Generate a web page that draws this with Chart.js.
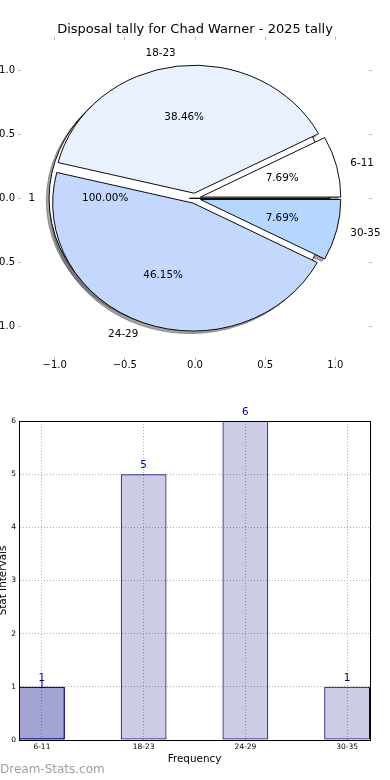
<!DOCTYPE html>
<html>
<head>
<meta charset="utf-8">
<title>Disposal tally for Chad Warner - 2025 tally</title>
<script src="https://cdn.jsdelivr.net/npm/chart.js@4.4.1/dist/chart.umd.min.js"></script>
<style>
  html, body { margin: 0; padding: 0; background: #fff; }
  #page { position: relative; width: 390px; height: 780px; overflow: hidden; }
  #page canvas { position: absolute; left: 0; }
  #watermark { position: absolute; left: 0; top: 762px; font: 12px 'DejaVu Sans', sans-serif; color: #9e9e9e; line-height: 15px; }
</style>
</head>
<body>
<div id="page">
  <canvas id="pieAxes" width="390" height="385" style="top:0"></canvas>
  <canvas id="pieBase" width="390" height="385" style="top:0"></canvas>
  <canvas id="pieMain" width="390" height="385" style="top:0"></canvas>
  <canvas id="barChart" width="390" height="395" style="top:385px"></canvas>
  <div id="watermark">Dream-Stats.com</div>
</div>
<script>
// data
const categories = ['6-11', '18-23', '24-29', '30-35'];
const tallies = [1, 5, 6, 1];
const extraTallies = [1];        // second bar drawn over 6-11
const extraLabels = ['1'];       // second, single wedge pie
const extraValues = [1];
const pieTicks = [-1.0, -0.5, 0.0, 0.5, 1.0];
const barTicks = [0, 1, 2, 3, 4, 5, 6];

const FONT = "'DejaVu Sans', sans-serif";
const pieColors = ['#ffffff', '#eaf1fe', '#c4d8fd', '#b4d6ff'];
const EXPLODE = 0.04;
const PIE_LIM = 1.24;
const BAR_W = 0.45;
const tickGrey = '#bdbdbd';
const gridGrey = '#b0b0b0';

Chart.defaults.font.family = FONT;
Chart.defaults.color = '#000';

function fmtTick(v) {
  return (v < 0 ? '\u2212' : '') + Math.abs(v).toFixed(1);
}
function fixedTicks(values) {
  return scale => { scale.ticks = values.map(v => ({ value: v })); };
}

// ---- top: axes frame for the pie ----
const markGrid = { drawOnChartArea: false, drawTicks: true, tickLength: 3, tickColor: tickGrey, tickWidth: 1 };

const axesChart = new Chart(document.getElementById('pieAxes'), {
  type: 'scatter',
  data: { datasets: [] },
  options: {
    responsive: false,
    animation: false,
    layout: { padding: 0 },
    plugins: {
      legend: { display: false },
      tooltip: { enabled: false },
      title: {
        display: true,
        text: 'Disposal tally for Chad Warner - 2025 tally',
        color: '#000',
        font: { size: 13, weight: 'normal', lineHeight: 1.2 },
        padding: { top: 22, bottom: 2 }
      }
    },
    scales: {
      x: {
        type: 'linear', position: 'bottom', min: -PIE_LIM, max: PIE_LIM,
        afterBuildTicks: fixedTicks(pieTicks),
        afterFit: s => { s.height = 28; },
        border: { display: false },
        grid: markGrid,
        ticks: { font: { size: 10, lineHeight: 1 }, padding: 0, maxRotation: 0, callback: v => fmtTick(v) }
      },
      x2: {
        type: 'linear', axis: 'x', position: 'top', min: -PIE_LIM, max: PIE_LIM,
        afterBuildTicks: fixedTicks(pieTicks),
        afterFit: s => { s.height = 0; },
        border: { display: false },
        grid: markGrid,
        ticks: { display: false }
      },
      y: {
        type: 'linear', position: 'left', min: -PIE_LIM, max: PIE_LIM,
        afterBuildTicks: fixedTicks(pieTicks),
        afterFit: s => { s.width = 21; },
        border: { display: false },
        grid: markGrid,
        ticks: { font: { size: 10 }, padding: 3, callback: v => fmtTick(v) }
      },
      y2: {
        type: 'linear', axis: 'y', position: 'right', min: -PIE_LIM, max: PIE_LIM,
        afterBuildTicks: fixedTicks(pieTicks),
        afterFit: s => { s.width = 21; },
        border: { display: false },
        grid: markGrid,
        ticks: { display: false }
      }
    }
  }
});

// pie geometry from the axes scales
const sx = axesChart.scales.x, sy = axesChart.scales.y;
const ox = sx.getPixelForValue(0), oy = sy.getPixelForValue(0);
const R = sx.getPixelForValue(1) - ox;
const ky = (oy - sy.getPixelForValue(1)) / R;
const CW = 390, CH = 385;
const piePad = {
  left: Math.max(0, 2 * ox - CW), right: Math.max(0, CW - 2 * ox),
  top: Math.max(0, 2 * oy - CH), bottom: Math.max(0, CH - 2 * oy)
};

function squash(ctx) {
  ctx.translate(ox, oy);
  ctx.scale(1, ky);
  ctx.translate(-ox, -oy);
}

let baseChart = null;
let mainChart = null;

const explodePlugin = {
  id: 'explodeWedges',
  afterDatasetsUpdate(chart) {
    const d = EXPLODE * R;
    chart.getDatasetMeta(0).data.forEach(arc => {
      const mid = (arc.startAngle + arc.endAngle) / 2;
      arc.x += Math.cos(mid) * d;
      arc.y += Math.sin(mid) * d;
    });
  }
};

const shadowPlugin = {
  id: 'pieShadows',
  beforeDatasetsDraw(chart) {
    const ctx = chart.ctx;
    const shift = 1000;
    const groups = [chart.getDatasetMeta(0).data];
    if (mainChart) groups.push(mainChart.getDatasetMeta(0).data);
    ctx.save();
    ctx.translate(-shift, 0);
    ctx.shadowColor = 'rgba(75, 75, 78, 0.5)';
    ctx.shadowBlur = 0;
    ctx.shadowOffsetX = shift - 0.02 * R;
    ctx.shadowOffsetY = 0.02 * R * ky;
    squash(ctx);
    groups.forEach(arcs => arcs.forEach(arc => arc.draw(ctx)));
    ctx.restore();
  }
};

const squashPlugin = {
  id: 'squashPie',
  beforeDatasetsDraw(chart) { chart.ctx.save(); squash(chart.ctx); },
  afterDatasetsDraw(chart) { chart.ctx.restore(); }
};

const pieTextPlugin = {
  id: 'pieTexts',
  afterDraw(chart) {
    const ctx = chart.ctx;
    const groups = [
      { arcs: baseChart.getDatasetMeta(0).data, labels: extraLabels, values: extraValues },
      { arcs: chart.getDatasetMeta(0).data, labels: chart.data.labels, values: chart.data.datasets[0].data }
    ];
    ctx.save();
    ctx.font = '10.4px ' + FONT;
    ctx.fillStyle = '#000';
    ctx.textBaseline = 'middle';
    groups.forEach(g => {
      const total = g.values.reduce((a, b) => a + b, 0);
      g.arcs.forEach((arc, i) => {
        const mid = (arc.startAngle + arc.endAngle) / 2;
        const c = Math.cos(mid), s = Math.sin(mid);
        const at = k => [arc.x + k * R * c, oy + (arc.y + k * R * s - oy) * ky];
        let [x, y] = at(1.1);
        ctx.textAlign = x > ox ? 'left' : 'right';
        ctx.fillText(g.labels[i], x, y);
        [x, y] = at(0.6);
        ctx.textAlign = 'center';
        ctx.fillText((g.values[i] / total * 100).toFixed(2) + '%', x, y);
      });
    });
    ctx.restore();
  }
};

function pieOptions() {
  return {
    responsive: false,
    animation: false,
    layout: { padding: piePad },
    rotation: 90,
    cutout: 0,
    radius: R,
    plugins: { legend: { display: false }, tooltip: { enabled: false } },
    elements: { arc: { borderColor: '#000', borderWidth: 1 } }
  };
}

// single wedge pie underneath
baseChart = new Chart(document.getElementById('pieBase'), {
  type: 'pie',
  data: {
    labels: extraLabels,
    datasets: [{ data: extraValues, backgroundColor: pieColors[0], circumference: 359.99 }]
  },
  options: pieOptions(),
  plugins: [explodePlugin, shadowPlugin, squashPlugin]
});

// main pie, counter-clockwise from 3 o'clock -> reverse for Chart.js
mainChart = new Chart(document.getElementById('pieMain'), {
  type: 'pie',
  data: {
    labels: categories.slice().reverse(),
    datasets: [{ data: tallies.slice().reverse(), backgroundColor: pieColors.slice().reverse() }]
  },
  options: pieOptions(),
  plugins: [explodePlugin, squashPlugin, pieTextPlugin]
});
baseChart.draw();

// ---- bottom: bar chart ----
const barStyle = {
  backgroundColor: 'rgba(0, 0, 128, 0.2)',
  borderColor: '#000080',
  borderWidth: 1,
  borderSkipped: false,
  barPercentage: BAR_W,
  categoryPercentage: 1,
  grouped: false
};

const barLabelPlugin = {
  id: 'barLabels',
  afterDatasetsDraw(chart) {
    const ctx = chart.ctx;
    ctx.save();
    ctx.font = '10.4px ' + FONT;
    ctx.fillStyle = '#000080';
    ctx.textAlign = 'center';
    ctx.textBaseline = 'middle';
    chart.data.datasets.forEach((ds, di) => {
      const lift = di === 0 ? 9 : 2;
      chart.getDatasetMeta(di).data.forEach((bar, i) => {
        ctx.fillText(String(ds.data[i].y), bar.x, bar.y - lift);
      });
    });
    ctx.restore();
  }
};

const framePlugin = {
  id: 'frame',
  afterDraw(chart) {
    const { ctx, chartArea: a } = chart;
    ctx.save();
    ctx.strokeStyle = '#000';
    ctx.lineWidth = 1;
    ctx.strokeRect(Math.round(a.left) + 0.5, Math.round(a.top) + 0.5,
      Math.round(a.right - a.left), Math.round(a.bottom - a.top));
    ctx.restore();
  }
};

const barChart = new Chart(document.getElementById('barChart'), {
  type: 'bar',
  data: {
    datasets: [
      { data: tallies.map((v, i) => ({ x: i, y: v })), ...barStyle },
      { data: extraTallies.map((v, i) => ({ x: i, y: v })), ...barStyle }
    ]
  },
  options: {
    responsive: false,
    animation: false,
    layout: { padding: { top: 36, right: 20, left: 0, bottom: 0 } },
    plugins: { legend: { display: false }, tooltip: { enabled: false } },
    scales: {
      x: {
        type: 'linear',
        offset: false,
        min: -BAR_W / 2,
        max: categories.length - 1 + BAR_W / 2,
        afterBuildTicks: fixedTicks(categories.map((c, i) => i)),
        afterFit: s => { s.height = 40; },
        grid: { color: gridGrey, drawTicks: false, offset: false },
        border: { color: '#000', width: 1, dash: [1, 2] },
        ticks: { font: { size: 7.5, lineHeight: 1 }, padding: 3, maxRotation: 0, autoSkip: false, callback: v => categories[v] },
        title: { display: true, text: 'Frequency', font: { size: 10.4, lineHeight: 1.2 }, padding: { top: 0, bottom: 14 } }
      },
      y: {
        min: 0,
        max: 6,
        afterBuildTicks: fixedTicks(barTicks),
        afterFit: s => { s.width = 19; },
        grid: { color: gridGrey, drawTicks: false },
        border: { color: '#000', width: 1, dash: [1, 2] },
        ticks: { font: { size: 7.5 }, padding: 3 },
        title: { display: true, text: 'Stat Intervals', font: { size: 10.4, lineHeight: 1 }, padding: { top: -2, bottom: 0 } }
      }
    }
  },
  plugins: [barLabelPlugin, framePlugin]
});
</script>
</body>
</html>
